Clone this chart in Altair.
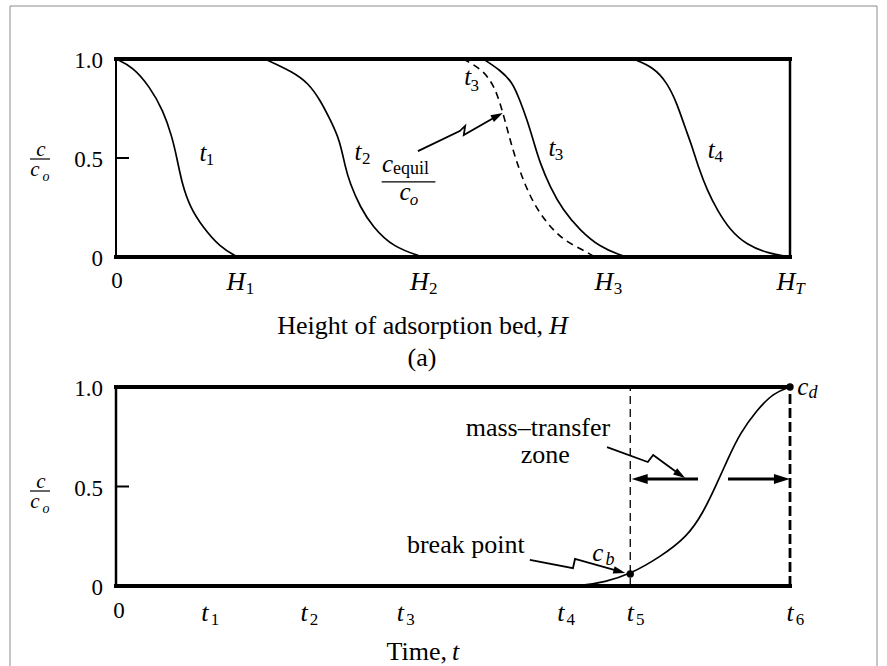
import altair as alt
import pandas as pd

SERIF = "Liberation Serif"
INK = "#000000"
W, H_TOP, H_BOT = 674, 198, 199

# ---- (a) concentration profiles through the bed (height scaled so H_T = 100) ----
t1_h = [0.0, 2.5, 5.0, 7.0, 8.3, 9.1, 9.8, 11.0, 12.9, 15.4, 18.0]
t1_c = [1.0, 0.96, 0.86, 0.74, 0.61, 0.49, 0.37, 0.25, 0.15, 0.05, 0.0]
t2_h = [22.1, 26.3, 28.5, 30.3, 31.8, 33.2, 34.0, 34.7, 36.2, 38.1, 41.1, 45.5]
t2_c = [1.0, 0.934, 0.879, 0.793, 0.692, 0.591, 0.455, 0.374, 0.253, 0.152, 0.05, 0.0]
t3_h = [54.5, 57.0, 58.8, 59.9, 61.0, 61.9, 62.9, 64.4, 66.3, 68.8, 71.8, 74.8, 75.8]
t3_c = [1.0, 0.944, 0.884, 0.793, 0.692, 0.591, 0.475, 0.354, 0.237, 0.136, 0.05, 0.01, 0.0]
t4_h = [76.7, 79.7, 81.8, 83.2, 84.4, 85.5, 86.4, 87.7, 89.2, 91.1, 93.6, 96.6, 100.0]
t4_c = [1.0, 0.96, 0.879, 0.778, 0.657, 0.556, 0.455, 0.338, 0.237, 0.136, 0.061, 0.02, 0.0]
eq_h = [51.5, 54.5, 56.2, 57.3, 58.2, 59.2, 60.4, 61.9, 63.9, 66.3, 69.3, 71.1]
eq_c = [1.0, 0.944, 0.859, 0.742, 0.626, 0.505, 0.389, 0.273, 0.172, 0.086, 0.035, 0.0]

# ---- (b) breakthrough curve at the outlet (time scaled so t6 = 100) ----
bt_t = [66.0, 68.8, 72.6, 76.3, 80.7, 84.7, 87.1, 89.2, 90.7, 92.6, 95.1, 97.5, 100.0]
bt_c = [0.0, 0.0, 0.02, 0.06, 0.145, 0.246, 0.367, 0.518, 0.633, 0.769, 0.884, 0.97, 1.0]
t_break, c_break = 76.3, 0.06      # break point c_b at t5
t_exhaust, c_exhaust = 100.0, 1.0  # exhaustion point c_d at t6

# ---- axis ticks ----
c_ticks = [1.0, 0.5, 0.0]
c_tick_text = ["1.0", "0.5", "0"]
h_ticks = [17.8, 45.0, 72.4, 99.4]
h_tick_sub = ["1", "2", "3", "T"]
t_ticks = [13.2, 27.9, 42.2, 66.0, 76.3, 100.0]
t_tick_sub = ["1", "2", "3", "4", "5", "6"]

one = pd.DataFrame({"k": [0]})


def scales():
    return (alt.Scale(domain=[0, 100], nice=False, zero=False),
            alt.Scale(domain=[0, 1], nice=False, zero=False))


def px_text(s, x, y, size, italic=False, align="center"):
    return alt.Chart(one).mark_text(
        text=s, font=SERIF, fontSize=size, fontStyle="italic" if italic else "normal",
        align=align, baseline="middle", color=INK,
    ).encode(x=alt.value(x), y=alt.value(y))


def data_text(df, xs, ys, size, italic=False, align="center", dx=0, dy=0, y_px=None, x_px=None):
    ch = alt.Chart(df).mark_text(
        font=SERIF, fontSize=size, fontStyle="italic" if italic else "normal",
        align=align, baseline="middle", color=INK, dx=dx, dy=dy,
    )
    enc = {"text": alt.Text("s:N")}
    enc["x"] = alt.value(x_px) if x_px is not None else alt.X("x:Q", scale=xs, axis=None)
    enc["y"] = alt.value(y_px) if y_px is not None else alt.Y("y:Q", scale=ys, axis=None)
    return ch.encode(**enc)


def px_rule(x, y, x2, y2, color=INK, width=1.0):
    return alt.Chart(one).mark_rule(color=color, strokeWidth=width).encode(
        x=alt.value(x), y=alt.value(y), x2=alt.value(x2), y2=alt.value(y2))


def box(df, xs, ys, width, dash=None):
    kw = {"color": INK, "strokeWidth": width}
    if dash:
        kw["strokeDash"] = dash
    else:
        kw["strokeCap"] = "square"
    return alt.Chart(df).mark_rule(**kw).encode(
        x=alt.X("x:Q", scale=xs, axis=None), x2="x2:Q",
        y=alt.Y("y:Q", scale=ys, axis=None), y2="y2:Q",
    )


def arrow_lines(df, xs, ys, width):
    return alt.Chart(df).mark_line(color=INK, strokeWidth=width).encode(
        x=alt.X("x:Q", scale=xs, axis=None), y=alt.Y("y:Q", scale=ys, axis=None),
        detail="id:N", order="seq:Q",
    )


# slender arrowhead pointing up; rotated by the angle channel
HEAD = "M0,-1L0.62,1L-0.62,1Z"


def arrow_heads(df, xs, ys, size):
    return alt.Chart(df).mark_point(shape=HEAD, filled=True, size=size, color=INK, opacity=1).encode(
        x=alt.X("x:Q", scale=xs, axis=None), y=alt.Y("y:Q", scale=ys, axis=None),
        angle=alt.Angle("a:Q", scale=None),
    )


def c_over_co(yc):
    # vertical-axis label c / c_o drawn as a small fraction
    return [
        px_text("c", -75, yc - 8, 21, italic=True),
        px_rule(-86, yc + 1, -66, yc + 1, width=1.2),
        px_text("c", -81, yc + 12, 21, italic=True),
        px_text("o", -70, yc + 19, 14, italic=True),
    ]


def y_ticks(xs, ys):
    lab = pd.DataFrame({"y": c_ticks, "s": c_tick_text})
    tick = alt.Chart(pd.DataFrame({"y": [0.5]})).mark_rule(color=INK, strokeWidth=2).encode(
        x=alt.value(0), x2=alt.value(13), y=alt.Y("y:Q", scale=ys, axis=None))
    return [data_text(lab, xs, ys, 23, align="right", x_px=-13, dy=2), tick]


# =================== (a) bed profiles ===================
xa, ya = scales()
profiles = pd.concat([
    pd.DataFrame({"h": t1_h, "c": t1_c, "curve": "t1"}),
    pd.DataFrame({"h": t2_h, "c": t2_c, "curve": "t2"}),
    pd.DataFrame({"h": t3_h, "c": t3_c, "curve": "t3"}),
    pd.DataFrame({"h": t4_h, "c": t4_c, "curve": "t4"}),
], ignore_index=True)
solid = alt.Chart(profiles).mark_line(color=INK, strokeWidth=1.7, interpolate="basis").encode(
    x=alt.X("h:Q", scale=xa, axis=None), y=alt.Y("c:Q", scale=ya, axis=None), detail="curve:N")
equil = alt.Chart(pd.DataFrame({"h": eq_h, "c": eq_c})).mark_line(
    color=INK, strokeWidth=1.6, strokeDash=[7, 5], interpolate="basis").encode(
    x=alt.X("h:Q", scale=xa, axis=None), y=alt.Y("c:Q", scale=ya, axis=None))

box_a_h = pd.DataFrame({"x": [0, 0], "x2": [100, 100], "y": [1, 0], "y2": [1, 0]})
box_a_l = pd.DataFrame({"x": [0], "x2": [0], "y": [0], "y2": [1]})
box_a_r = pd.DataFrame({"x": [100], "x2": [100], "y": [0], "y2": [1]})

arrow_a = pd.DataFrame({"x": [44.8, 51.0, 51.8, 51.6, 56.6], "y": [0.535, 0.636, 0.662, 0.616, 0.713],
                        "seq": [0, 1, 2, 3, 4], "id": ["a"] * 5})
head_a = pd.DataFrame({"x": [56.6], "y": [0.713], "a": [62]})

lab_t = pd.DataFrame({"x": [12.9, 35.9, 52.2, 64.7, 88.3], "y": [0.525, 0.53, 0.909, 0.55, 0.54],
                      "s": ["t", "t", "t", "t", "t"]})
lab_t_sub = pd.DataFrame({"x": [13.3, 36.5, 52.6, 65.1, 88.8], "y": [0.49, 0.495, 0.865, 0.515, 0.505],
                          "s": ["1", "2", "3", "3", "4"]})
lab_c = pd.DataFrame({"x": [40.3, 42.9], "y": [0.47, 0.328], "s": ["c", "c"]})
lab_equil = pd.DataFrame({"x": [41.1], "y": [0.445], "s": ["equil"]})
lab_o = pd.DataFrame({"x": [43.6], "y": [0.29], "s": ["o"]})
frac_bar = pd.DataFrame({"x": [39.5], "x2": [47.3], "y": [0.379], "y2": [0.379]})

h_lab = pd.DataFrame({"x": h_ticks, "s": ["H"] * len(h_ticks)})
h_sub_num = pd.DataFrame({"x": h_ticks[:3], "s": h_tick_sub[:3]})
h_sub_T = pd.DataFrame({"x": h_ticks[3:], "s": h_tick_sub[3:]})

layers_a = [
    # page background and thin outer frame
    alt.Chart(one).mark_rect(fill="white").encode(
        x=alt.value(-116), x2=alt.value(771), y=alt.value(-59), y2=alt.value(607)),
    px_rule(-106, -53, -106, 607, color="#8c8c8c"),
    px_rule(761, -53, 761, 607, color="#8c8c8c"),
    px_rule(-106, -53, 761, -53, color="#8c8c8c"),
    box(box_a_h, xa, ya, 4),
    box(box_a_l, xa, ya, 2),
    box(box_a_r, xa, ya, 2.5),
    solid, equil,
    arrow_lines(arrow_a, xa, ya, 1.8),
    arrow_heads(head_a, xa, ya, 144),
    box(frac_bar, xa, ya, 1.2),
    data_text(lab_t, xa, ya, 25, italic=True),
    data_text(lab_t_sub, xa, ya, 17, align="left"),
    data_text(lab_c, xa, ya, 25, italic=True),
    data_text(lab_equil, xa, ya, 18, align="left"),
    data_text(lab_o, xa, ya, 17, italic=True, align="left"),
    px_text("0", 1, 222, 23),
    data_text(h_lab, xa, ya, 26, italic=True, y_px=223),
    data_text(h_sub_num, xa, ya, 17, y_px=230, dx=14),
    data_text(h_sub_T, xa, ya, 17, italic=True, y_px=230, dx=14),
    px_text("Height of adsorption bed,", 427, 267, 26, align="right"),
    px_text("H", 433, 267, 26, italic=True, align="left"),
    px_text("(a)", 306, 299, 26),
] + y_ticks(xa, ya) + c_over_co(99)

top = alt.layer(*layers_a).properties(width=W, height=H_TOP)

# =================== (b) breakthrough curve ===================
xb, yb = scales()
curve_b = alt.Chart(pd.DataFrame({"t": bt_t, "c": bt_c})).mark_line(
    color=INK, strokeWidth=1.7, interpolate="basis").encode(
    x=alt.X("t:Q", scale=xb, axis=None), y=alt.Y("c:Q", scale=yb, axis=None))
points_b = alt.Chart(pd.DataFrame({"t": [t_break, t_exhaust], "c": [c_break, c_exhaust]})).mark_circle(
    size=55, color=INK, opacity=1).encode(
    x=alt.X("t:Q", scale=xb, axis=None), y=alt.Y("c:Q", scale=yb, axis=None))

box_b_h = pd.DataFrame({"x": [0, 0], "x2": [100, 100], "y": [1, 0], "y2": [1, 0]})
box_b_l = pd.DataFrame({"x": [0], "x2": [0], "y": [0], "y2": [1]})
dash5 = pd.DataFrame({"x": [t_break], "x2": [t_break], "y": [0], "y2": [1]})
dash6 = pd.DataFrame({"x": [t_exhaust], "x2": [t_exhaust], "y": [0], "y2": [1]})

zig_b = pd.DataFrame({
    "x": [72.85, 78.9, 79.7, 83.7, 61.4, 67.8, 68.1, 74.7],
    "y": [0.698, 0.623, 0.658, 0.559, 0.131, 0.090, 0.136, 0.073],
    "seq": [0, 1, 2, 3, 0, 1, 2, 3], "id": ["mtz"] * 4 + ["bp"] * 4})
span_b = pd.DataFrame({"x": [86.35, 77.7, 90.8, 98.8], "y": [0.538] * 4,
                       "seq": [0, 1, 0, 1], "id": ["l", "l", "r", "r"]})
head_zig = pd.DataFrame({"x": [83.7, 74.7], "y": [0.559, 0.073], "a": [123, 105]})
head_span = pd.DataFrame({"x": [77.7, 98.8], "y": [0.538, 0.538], "a": [270, 90]})

t_lab = pd.DataFrame({"x": t_ticks, "s": ["t"] * len(t_ticks)})
t_sub = pd.DataFrame({"x": t_ticks, "s": t_tick_sub})
lab_b_main = pd.DataFrame({"x": [62.6, 63.7, 51.9], "y": [0.794, 0.658, 0.206],
                           "s": ["mass\u2013transfer", "zone", "break point"]})
lab_b_c = pd.DataFrame({"x": [71.5, 101.9], "y": [0.166, 1.0], "s": ["c", "c"]})
lab_b_sub = pd.DataFrame({"x": [73.3, 103.4], "y": [0.131, 0.97], "s": ["b", "d"]})

layers_b = [
    box(box_b_h, xb, yb, 4),
    box(box_b_l, xb, yb, 2.5),
    box(dash5, xb, yb, 1.3, dash=[8, 5]),
    box(dash6, xb, yb, 2.8, dash=[10, 4]),
    curve_b, points_b,
    arrow_lines(zig_b, xb, yb, 1.8),
    arrow_lines(span_b, xb, yb, 3.0),
    arrow_heads(head_zig, xb, yb, 144),
    arrow_heads(head_span, xb, yb, 256),
    data_text(lab_b_main, xb, yb, 26),
    data_text(lab_b_c, xb, yb, 25, italic=True),
    data_text(lab_b_sub, xb, yb, 18, italic=True),
    px_text("0", 3, 224, 23),
    data_text(t_lab, xb, yb, 26, italic=True, y_px=226),
    data_text(t_sub, xb, yb, 17, y_px=233, dx=10),
    px_text("Time,", 331, 265, 26, align="right"),
    px_text("t", 336, 265, 26, italic=True, align="left"),
] + y_ticks(xb, yb) + c_over_co(103)

bottom = alt.layer(*layers_b).properties(width=W, height=H_BOT)

chart = alt.vconcat(top, bottom, spacing=130, bounds="flush").properties(
    padding={"left": 0, "top": 0, "right": 0, "bottom": 0},
    background="white",
).configure_view(stroke=None)

chart.save("out.html", embed_options={"renderer": "svg", "actions": False})
